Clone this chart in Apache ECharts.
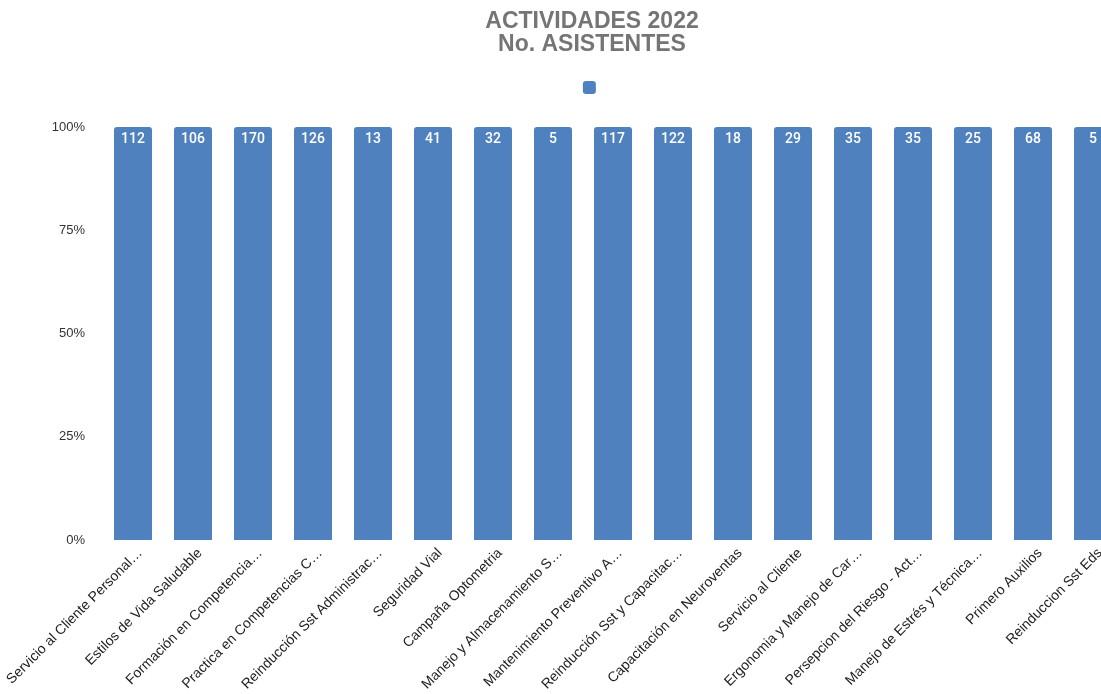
<!DOCTYPE html>
<html><head><meta charset="utf-8">
<script src="https://cdn.jsdelivr.net/npm/echarts@6/dist/echarts.min.js"></script>
<style>html,body{margin:0;padding:0;overflow:hidden;background:#fff;width:1101px;height:694px}#c{width:1184px;height:694px}</style>
</head><body><div id="c"></div>
<script>
const categories = ["Servicio al Cliente Personal…","Estilos de Vida Saludable","Formación en Competencia…","Practica en Competencias C…","Reinducción Sst Administrac…","Seguridad Vial","Campaña Optometria","Manejo y Almacenamiento S…","Mantenimiento Preventivo A…","Reinducción Sst y Capacitac…","Capacitación en Neuroventas","Servicio al Cliente","Ergonomia y Manejo de Car…","Persepcion del Riesgo - Act…","Manejo de Estrés y Técnica…","Primero Auxilios","Reinduccion Sst Eds"];
const asistentes = [112,106,170,126,13,41,32,5,117,122,18,29,35,35,25,68,5];
const yTicks = ["0%","25%","50%","75%","100%"];

// 100% stacked: each single-series stack share is value / stack total
const shares = asistentes.map(v => ({value: v / v * 100, count: v}));

const chart = echarts.init(document.getElementById('c'));
chart.setOption({
  animation: false,
  title: {
    text: "ACTIVIDADES 2022\nNo. ASISTENTES",
    left: 'center', top: 5,
    textStyle: {fontFamily: 'Liberation Sans', fontSize: 23, fontWeight: 'bold', color: '#757575', lineHeight: 23}
  },
  legend: {
    top: 76, left: 'center', itemWidth: 13, itemHeight: 13, icon: 'roundRect',
    data: [{name: ' '}], textStyle: {fontSize: 1}, itemGap: 0
  },
  grid: {left: 103, right: 61, top: 127, bottom: 154, containLabel: false},
  xAxis: {
    type: 'category', data: categories,
    axisLine: {show: false}, axisTick: {show: false},
    axisLabel: {rotate: 45, interval: 0, fontFamily: 'Liberation Sans', fontSize: 14, color: '#222', margin: 18, padding: [0, -10, 0, 0]}
  },
  yAxis: {
    type: 'value', min: 0, max: 100, interval: 25,
    splitLine: {show: false}, axisLine: {show: false}, axisTick: {show: false},
    axisLabel: {formatter: v => yTicks[v / 25], fontFamily: 'Liberation Sans', fontSize: 13, color: '#333', margin: 18}
  },
  series: [{
    name: ' ', type: 'bar', stack: 'total', barWidth: 38,
    data: shares,
    itemStyle: {color: '#4e81bd', borderRadius: [3, 3, 0, 0]},
    label: {
      show: true, position: 'insideTop', distance: 5,
      formatter: p => String(p.data.count),
      color: '#fff', fontFamily: 'Roboto', fontWeight: 500, fontSize: 14
    }
  }]
});
</script></body></html>
